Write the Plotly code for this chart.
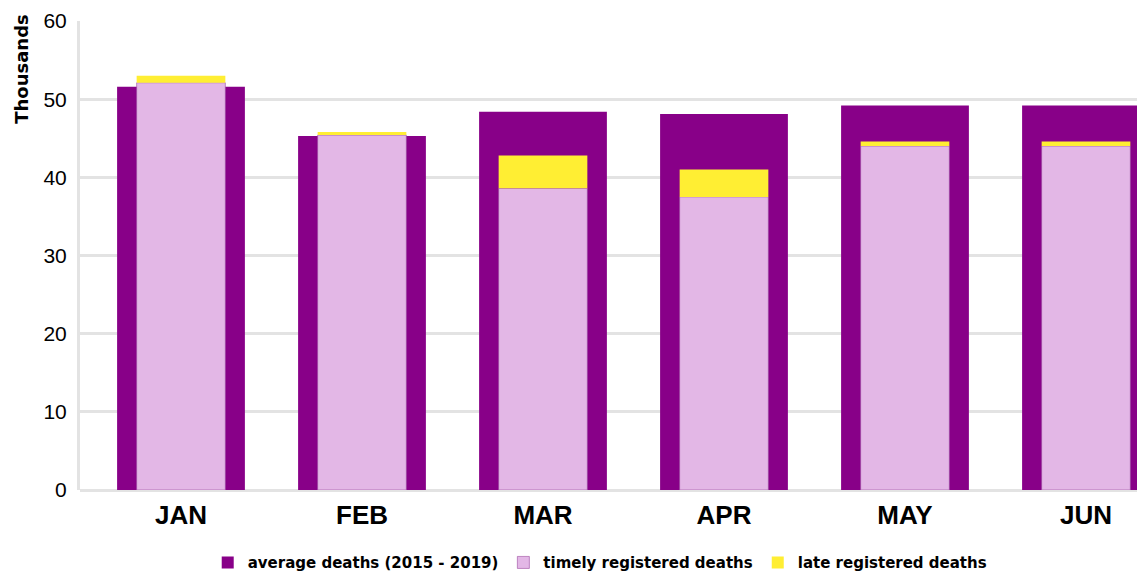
import plotly.graph_objects as go

months = ["JAN", "FEB", "MAR", "APR", "MAY", "JUN"]
average_deaths = [51.6, 45.3, 48.4, 48.1, 49.2, 49.2]
timely_deaths = [52.1, 45.4, 38.6, 37.5, 44.0, 44.0]
late_deaths = [0.9, 0.4, 4.2, 3.5, 0.6, 0.6]
y_ticks = [0, 10, 20, 30, 40, 50, 60]

fig = go.Figure()
fig.add_trace(go.Bar(
    x=months, y=average_deaths, width=0.706, name="average deaths (2015 - 2019)",
    marker=dict(color="#880088", line=dict(width=0)),
))
fig.add_trace(go.Bar(
    x=months, y=timely_deaths, width=0.49, name="timely registered deaths",
    marker=dict(color="#E3B7E6", line=dict(color="#9a4aa0", width=0.6)),
))
fig.add_trace(go.Bar(
    x=months, y=late_deaths, base=timely_deaths, width=0.49, name="late registered deaths",
    marker=dict(color="#FFEE33", line=dict(width=0)),
))

fig.update_layout(
    width=1137, height=566,
    margin=dict(l=72, r=0, t=13, b=84, autoexpand=False),
    barmode="overlay",
    plot_bgcolor="white", paper_bgcolor="white",
    font=dict(family="Liberation Sans, Arial, sans-serif", color="black"),
    showlegend=True,
    legend=dict(
        orientation="h", x=0.488, xanchor="center",
        yref="container", y=0.02, yanchor="middle",
        font=dict(family="DejaVu Sans, Liberation Sans, Arial", size=15, weight="bold"),
        itemwidth=30, traceorder="normal",
    ),
    xaxis=dict(
        range=[-0.558, 5.326], showgrid=False, showline=False, ticks="",
        tickfont=dict(size=26, family="Liberation Sans, Arial", weight="bold"),
        ticklabelstandoff=7,
    ),
    yaxis=dict(
        range=[0, 60], tickvals=y_ticks, showgrid=True, gridcolor="#e3e3e3", gridwidth=3,
        zeroline=True, zerolinecolor="#e3e3e3", zerolinewidth=3,
        showline=True, linecolor="#e3e3e3", linewidth=3,
        tickfont=dict(size=21), ticks="", ticklabelstandoff=6,
    ),
    annotations=[dict(
        text="<b>Thousands</b>", textangle=-90, xref="paper", yref="paper",
        x=-0.0545, y=0.898, xanchor="center", yanchor="middle", showarrow=False,
        font=dict(size=18, family="DejaVu Sans, Liberation Sans, Arial"),
    )],
)

fig.write_html("out.html")
